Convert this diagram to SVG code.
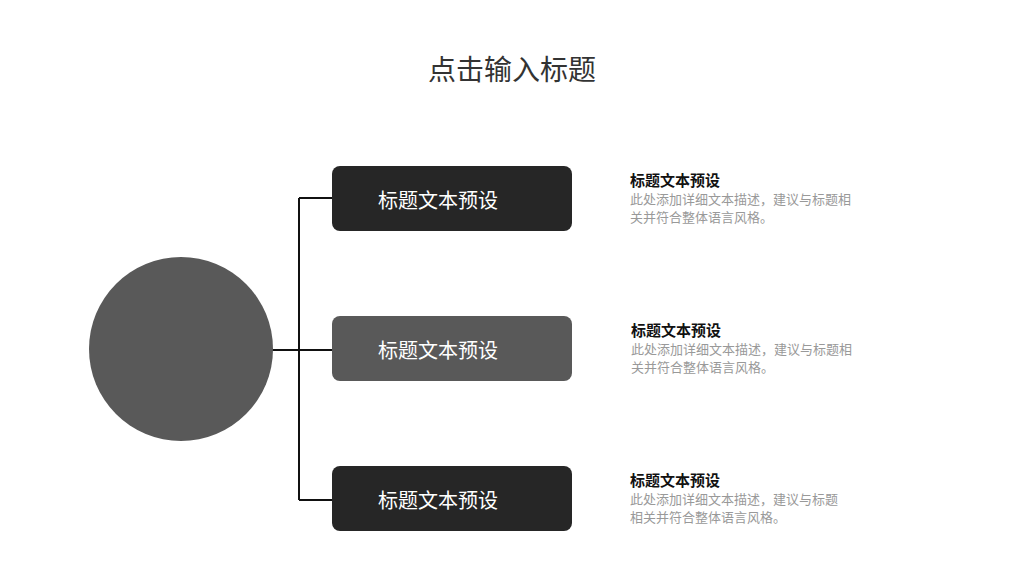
<svg xmlns="http://www.w3.org/2000/svg" width="1024" height="576" viewBox="0 0 1024 576">
<style>
text{font-family:"Noto Sans CJK SC","Noto Sans",sans-serif}
.box{rx:8}
.bt{fill:#fff;font-size:20px;text-anchor:middle;dominant-baseline:central}
.h{fill:#111;font-size:15px;font-weight:bold}
.d{fill:#999;font-size:13px}
.c{stroke:#111;stroke-width:2;fill:none}
</style>
<rect width="1024" height="576" fill="#fff"/>
<text x="512" y="80" font-size="28" fill="#333" text-anchor="middle">点击输入标题</text>
<g id="connectors">
<path class="c" d="M272 350H332M299 198V500M299 198H333M299 500H333"/>
</g>
<g id="circle"><circle cx="181" cy="349" r="92" fill="#595959"/></g>
<g id="box1"><rect class="box" x="332" y="166" width="240" height="65" fill="#262626"/><text class="bt" x="438" y="199">标题文本预设</text></g>
<g id="box2"><rect class="box" x="332" y="316" width="240" height="65" fill="#595959"/><text class="bt" x="438" y="349">标题文本预设</text></g>
<g id="box3"><rect class="box" x="332" y="466" width="240" height="65" fill="#262626"/><text class="bt" x="438" y="499">标题文本预设</text></g>
<g id="desc1"><text class="h" x="630" y="186">标题文本预设</text><text class="d" x="630" y="204">此处添加详细文本描述，建议与标题相</text><text class="d" x="630" y="222">关并符合整体语言风格。</text></g>
<g id="desc2"><text class="h" x="631" y="336">标题文本预设</text><text class="d" x="631" y="354">此处添加详细文本描述，建议与标题相</text><text class="d" x="631" y="372">关并符合整体语言风格。</text></g>
<g id="desc3"><text class="h" x="630" y="486">标题文本预设</text><text class="d" x="630" y="504">此处添加详细文本描述，建议与标题</text><text class="d" x="630" y="522">相关并符合整体语言风格。</text></g>
</svg>
